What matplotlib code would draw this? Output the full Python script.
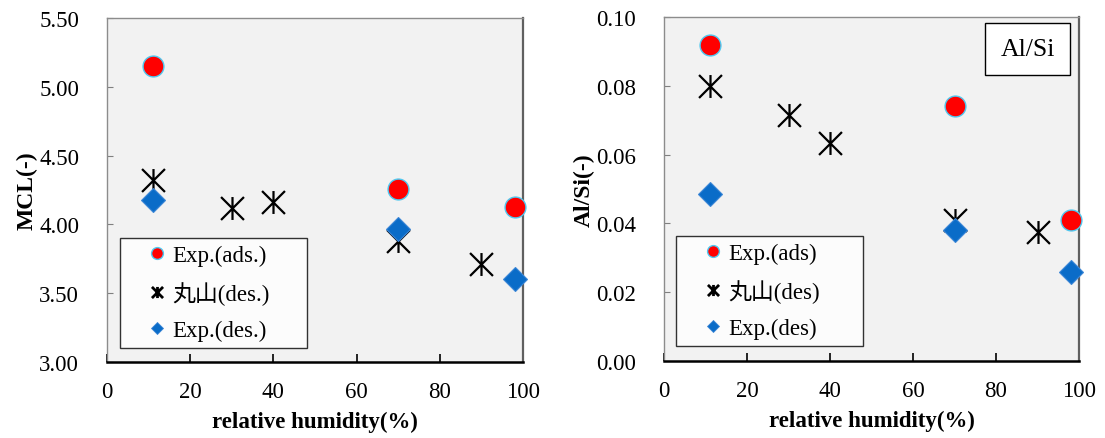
import matplotlib
matplotlib.use("Agg")
import matplotlib.pyplot as plt
from matplotlib.path import Path
from matplotlib.lines import Line2D

plt.rcParams['font.family'] = ['Liberation Serif', 'Noto Sans CJK JP']

# Relative humidity (%) for each series
rh_exp = [11, 70, 98]
rh_model = [11, 30, 40, 70, 90]

# Mean chain length
mcl_ads = [5.15, 4.26, 4.13]
mcl_model = [4.32, 4.12, 4.16, 3.88, 3.71]
mcl_des = [4.18, 3.97, 3.60]

# Al/Si ratio
alsi_ads = [0.092, 0.074, 0.041]
alsi_model = [0.080, 0.0716, 0.0635, 0.041, 0.0376]
alsi_des = [0.0485, 0.0382, 0.026]

x_ticks = [0, 20, 40, 60, 80, 100]
mcl_ticks = [3.00, 3.50, 4.00, 4.50, 5.00, 5.50]
alsi_ticks = [0.00, 0.02, 0.04, 0.06, 0.08, 0.10]

# Asterisk marker: an X with a vertical bar through it
asterisk = Path(
    [(0, -1), (0, 1), (-1, -1), (1, 1), (-1, 1), (1, -1)],
    [Path.MOVETO, Path.LINETO, Path.MOVETO, Path.LINETO, Path.MOVETO, Path.LINETO],
)

RED = '#FF0000'
CYAN = '#4FC8F0'
BLUE = '#0A6CC8'
BLUE_EDGE = '#3C86D6'
BG = '#F2F2F2'

W, H = 1105, 439
fig = plt.figure(figsize=(W / 100, H / 100), dpi=100)


def px_axes(x0, x1, ytop, ybot):
    return fig.add_axes([x0 / W, (H - ybot) / H, (x1 - x0) / W, (ybot - ytop) / H])


def style_axes(ax, ylim, yticks, yfmt, ylabel):
    ax.set_facecolor(BG)
    ax.set_xlim(0, 100)
    ax.set_ylim(*ylim)
    ax.set_xticks(x_ticks)
    ax.set_yticks(yticks)
    ax.set_yticklabels([yfmt.format(v) for v in yticks])
    ax.tick_params(axis='x', direction='in', length=6, width=1.2, color='black',
                   pad=14, labelsize=16.5)
    ax.tick_params(axis='y', direction='in', length=4, width=0.8, color='#808080',
                   pad=20, labelsize=16.5)
    for side in ('left', 'top'):
        ax.spines[side].set_color('#8C8C8C')
        ax.spines[side].set_linewidth(1.0)
    ax.spines['right'].set_color('#606060')
    ax.spines['right'].set_linewidth(1.6)
    ax.spines['bottom'].set_color('black')
    ax.spines['bottom'].set_linewidth(1.8)
    ax.set_xlabel('relative humidity(%)', fontsize=16.5, fontweight='bold', labelpad=6)
    ax.set_ylabel(ylabel, fontsize=17, fontweight='bold', labelpad=1)


def draw_series(ax, ads, model, des):
    ax.plot(rh_exp, ads, linestyle='none', marker='o', markersize=15,
            markerfacecolor=RED, markeredgecolor=CYAN, markeredgewidth=1.0,
            clip_on=False, zorder=3)
    ax.plot(rh_model, model, linestyle='none', marker=asterisk, markersize=16.5,
            markeredgecolor='black', markeredgewidth=1.6, markerfacecolor='none',
            clip_on=False, zorder=4)
    ax.plot(rh_exp, des, linestyle='none', marker='D', markersize=12.5,
            markerfacecolor=BLUE, markeredgecolor=BLUE_EDGE, markeredgewidth=0.8,
            clip_on=False, zorder=5)


def add_legend(ax, labels, anchor):
    handles = [
        Line2D([], [], linestyle='none', marker='o', markersize=8.5,
               markerfacecolor=RED, markeredgecolor=CYAN, markeredgewidth=1.0),
        Line2D([], [], linestyle='none', marker=asterisk, markersize=8,
               markeredgecolor='black', markeredgewidth=2.0),
        Line2D([], [], linestyle='none', marker='D', markersize=6.5,
               markerfacecolor=BLUE, markeredgecolor=BLUE_EDGE, markeredgewidth=0.6),
    ]
    leg = ax.legend(handles, labels, loc='lower left', bbox_to_anchor=anchor,
                    mode='expand', borderaxespad=0, fancybox=False, frameon=True,
                    prop={'size': 16.5}, handlelength=2.6, handletextpad=-0.6,
                    labelspacing=0.66, borderpad=0.3)
    leg.get_frame().set_edgecolor('black')
    leg.get_frame().set_linewidth(1.0)
    leg.get_frame().set_facecolor('white')
    leg.set_zorder(2)
    return leg


# Left panel: mean chain length
ax1 = px_axes(107, 523, 19, 363)
style_axes(ax1, (3.0, 5.5), mcl_ticks, '{:.2f}', 'MCL(-)')
draw_series(ax1, mcl_ads, mcl_model, mcl_des)
add_legend(ax1, ['Exp.(ads.)', '丸山(des.)', 'Exp.(des.)'], (0.031, 0.041, 0.45, 0.1))

# Right panel: Al/Si ratio
ax2 = px_axes(664, 1079, 18, 362)
style_axes(ax2, (0.0, 0.10), alsi_ticks, '{:.2f}', 'Al/Si(-)')
draw_series(ax2, alsi_ads, alsi_model, alsi_des)
add_legend(ax2, ['Exp.(ads)', '丸山(des)', 'Exp.(des)'], (0.029, 0.044, 0.45, 0.1))
ax2.text(0.876, 0.907, 'Al/Si', transform=ax2.transAxes, ha='center', va='center',
         fontsize=18.5,
         bbox=dict(boxstyle='square,pad=0.6', facecolor='white', edgecolor='black',
                   linewidth=1.0))

fig.savefig('out.png', dpi=100)
